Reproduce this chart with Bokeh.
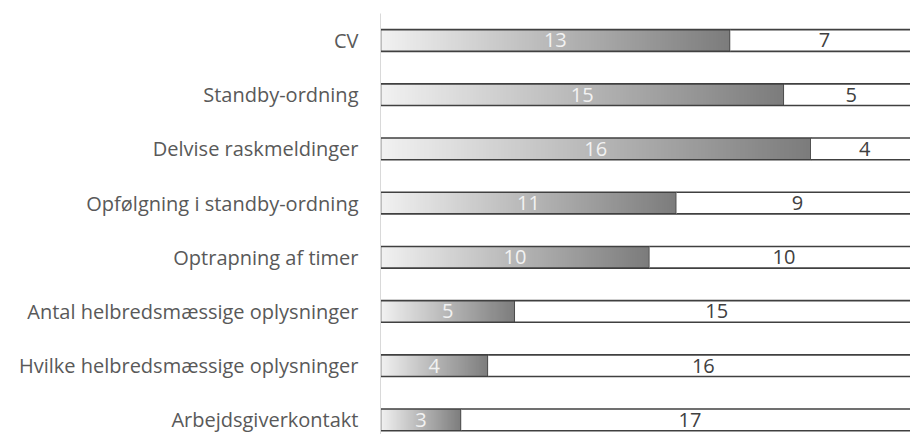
import numpy as np
from bokeh.plotting import figure
from bokeh.models import Range1d, ColumnDataSource, FixedTicker
from bokeh.core.properties import value
from bokeh.embed import file_html
from bokeh.resources import INLINE

categories = ["CV", "Standby-ordning", "Delvise raskmeldinger", "Opfølgning i standby-ordning",
              "Optrapning af timer", "Antal helbredsmæssige oplysninger",
              "Hvilke helbredsmæssige oplysninger", "Arbejdsgiverkontakt"]
yes_vals = [13, 15, 16, 11, 10, 5, 4, 3]
no_vals = [7, 5, 4, 9, 10, 15, 16, 17]

n = len(categories)
ypos = [n - 1 - i for i in range(n)]
lefts2 = yes_vals
rights2 = [a + b for a, b in zip(yes_vals, no_vals)]

FONT = "Open Sans"
FS = "20px"

p = figure(width=910, height=434, output_backend="svg", toolbar_location=None,
           x_range=Range1d(0, 19.70), y_range=Range1d(-0.270, 7.498),
           min_border_left=380, min_border_right=0, min_border_top=13, min_border_bottom=0)
p.xaxis.visible = False
p.xgrid.visible = False
p.ygrid.visible = False
p.outline_line_color = None
p.background_fill_color = "white"
p.border_fill_color = "white"

# gradient image for the first segment
N = 256
t = np.linspace(0, 1, N)
c0 = np.array([242, 242, 242])
c1 = np.array([124, 124, 124])
img = np.zeros((1, N), dtype=np.uint32)
view = img.view(dtype=np.uint8).reshape((1, N, 4))
for k in range(3):
    view[0, :, k] = (c0[k] + (c1[k] - c0[k]) * t).astype(np.uint8)
view[0, :, 3] = 255

bh = 0.4
p.image_rgba(image=[img] * n, x=[0] * n, y=[y - bh / 2 for y in ypos],
             dw=yes_vals, dh=[bh] * n)
p.hbar(y=ypos, left=0, right=yes_vals, height=bh, fill_color=None,
       line_color="#404040", line_width=1.6)
# second segment: white fill, top and bottom edges only (right end runs off the chart)
p.hbar(y=ypos, left=lefts2, right=rights2, height=bh, fill_color="white", line_color=None)
p.segment(x0=lefts2, x1=rights2, y0=[y + bh / 2 for y in ypos], y1=[y + bh / 2 for y in ypos],
          line_color="#404040", line_width=1.6)
p.segment(x0=lefts2, x1=rights2, y0=[y - bh / 2 for y in ypos], y1=[y - bh / 2 for y in ypos],
          line_color="#404040", line_width=1.6)

src = ColumnDataSource(dict(
    y=ypos,
    x1=[v / 2 for v in yes_vals],
    x2=[a + b / 2 for a, b in zip(yes_vals, no_vals)],
    t1=[str(v) for v in yes_vals],
    t2=[str(v) for v in no_vals],
))
p.text(x="x1", y="y", text="t1", source=src, text_align="center", text_baseline="middle",
       text_color="#f2f2f2", text_font=value(FONT), text_font_size=FS)
p.text(x="x2", y="y", text="t2", source=src, text_align="center", text_baseline="middle",
       text_color="#404040", text_font=value(FONT), text_font_size=FS)

yax = p.yaxis[0]
yax.ticker = FixedTicker(ticks=ypos)
yax.major_label_overrides = {y: c for y, c in zip(ypos, categories)}
yax.axis_line_color = "#d9d9d9"
yax.axis_line_width = 1
yax.major_tick_line_color = None
yax.minor_tick_line_color = None
yax.major_tick_out = 0
yax.major_tick_in = 0
yax.major_label_standoff = 22
yax.major_label_text_font = FONT
yax.major_label_text_font_size = FS
yax.major_label_text_color = "#595959"

open("out.html", "w").write(file_html(p, INLINE))
